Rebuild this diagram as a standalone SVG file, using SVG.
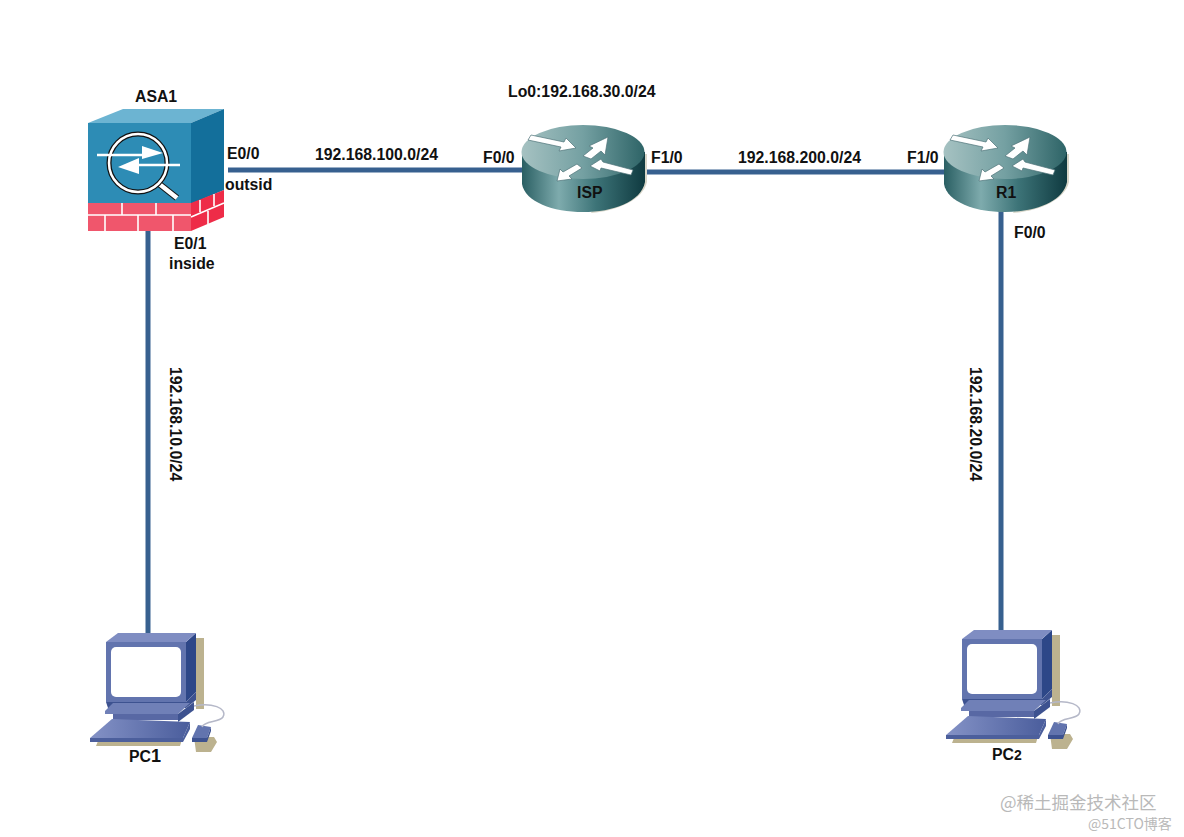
<svg xmlns="http://www.w3.org/2000/svg" width="1184" height="837" viewBox="0 0 1184 837">
<style>
text{font-family:"Liberation Sans",Arial,sans-serif;font-weight:bold;font-size:15.800px;fill:#111}
.link{stroke:#37608f;stroke-width:5;fill:none}
.wm{font-family:"Noto Sans CJK SC",sans-serif;font-weight:normal;fill:#b9b9b9}
.arr{fill:#fff;stroke:#4d7378;stroke-width:.7}
.cord{fill:none;stroke:#b5b8c8;stroke-width:1.5}
</style>
<defs>
<linearGradient id="rtop" x1="0" x2="1" y1="0" y2="0"><stop offset="0" stop-color="#a6c2c2"/><stop offset=".5" stop-color="#74a0a2"/><stop offset="1" stop-color="#2e6467"/></linearGradient>
<linearGradient id="rside" x1="0" x2="1" y1="0" y2="0"><stop offset="0" stop-color="#2a5f63"/><stop offset=".3" stop-color="#7eabad"/><stop offset=".6" stop-color="#3d7478"/><stop offset="1" stop-color="#0f3a40"/></linearGradient>
<linearGradient id="pcg" x1="0" x2="1" y1="0" y2="0"><stop offset="0" stop-color="#8492c6"/><stop offset="1" stop-color="#4a5d9c"/></linearGradient>
<g id="router">
<path d="M100 30 H126 V58 C122 76 96 87 70 89 Z" fill="#d8d6c8"/>
<path d="M1 28 V60 C4 78 32 88 62 88 C92 88 120 78 124 58 V28 Z" fill="url(#rside)"/>
<ellipse cx="62" cy="28" rx="61.500" ry="27" fill="url(#rtop)"/>
<path class="arr" d="M7 16 L10 11 L43 18 L45 14 L55 24 L38 27 L40 23 Z"/>
<path class="arr" d="M62 32 L72 24 L68 22 L87 13 L84 31 L80 27 L70 35 Z"/>
<path class="arr" d="M69 42 L80 35 L82 38 L112 46 L110 51 L80 44 L79 47 Z"/>
<path class="arr" d="M36 57 L39 45 L42 48 L56 40 L61 44 L48 52 L51 55 Z"/>
</g>
<g id="pc">
<path d="M90 8 H98 V79 H90 Z" fill="#bcb28f"/>
<path d="M-10 116 L-6 106 H77 L74 116 Z M88 107 H108 L111 112 L105 122 H90 Z" fill="#bcb28f"/>
<path d="M80 12 L90 3 V62 L80 72 Z" fill="#2d4788"/>
<path d="M0 12 L12 3 H90 L80 12 Z" fill="#7f8dc2"/>
<rect x="0" y="12" width="80" height="60" fill="#6274ae"/>
<rect x="5" y="17" width="70" height="50" rx="5" fill="#fff"/>
<path d="M0 72 H80 L90 62 V70 L80 78 H2 Z" fill="#3d5290"/>
<path d="M-1 81 L7 73 H84 L72 84 H-1 Z" fill="#7080b7"/>
<path d="M72 84 L88 72 V80 L72 92 Z" fill="#3d5290"/>
<path d="M7 84 H72 V90 H7 Z" fill="#5868a4"/>
<path d="M-16 108 L6 89 L84 92 L77 108 Z" fill="url(#pcg)"/>
<path d="M-16 108 H77 L84 92 V99 L77 112 H-16 Z" fill="#4c5f9c"/>
<path d="M86 108 L92 95 L105 97 L101 108 Z" fill="#6274ae"/>
<path d="M86 108 H101 L105 97 V101 L101 112 H86 Z" fill="#3d5290"/>
<path class="cord" d="M88 76 C105 72 122 78 117 87 C113 93 99 90 96 97"/>
</g>
</defs>
<rect width="1184" height="837" fill="#fff"/>
<g id="connectors">
<path class="link" d="M228 170 H522"/>
<path class="link" d="M645 172 H945"/>
<path class="link" d="M148 231 V633"/>
<path class="link" d="M1001 210 V631"/>
</g>
<g id="ASA1">
<path d="M88 123 L123 109 H224 L191 123 Z" fill="#6cb4d2"/>
<path d="M191 123 L224 109 V190 L191 204 Z" fill="#136f9b"/>
<rect x="88" y="123" width="103" height="81" fill="#2d8cb5"/>
<path d="M88 203 H191 V231 H88 Z" fill="#f0566c"/>
<path d="M191 203 L224 190 V217 L191 231 Z" fill="#ee2c48"/>
<path d="M88 215 H191 M122 203 V215 M156 203 V215 M105 215 V231 M138 215 V231 M173 215 V231 M191 217 L224 203 M200 200 V212 M214 194 V206 M208 211 V224" stroke="#fff" stroke-width="1.600" fill="none"/>
<path d="M158 183 L177 198" stroke="#111" stroke-width="6.500"/>
<path d="M158 183 L177 198" stroke="#fff" stroke-width="4.500"/>
<circle cx="138" cy="163" r="29" fill="#2d8cb5" stroke="#111" stroke-width="5"/>
<circle cx="138" cy="163" r="29" fill="none" stroke="#fff" stroke-width="2.500"/>
<path d="M97 155 H148 M127 165 H180" stroke="#fff" stroke-width="2.500"/>
<path d="M142 146 L163 153 L142 159 Z M139 158 L118 167 L139 174 Z" fill="#fff"/>
<text x="135" y="102">ASA1</text>
<text x="227" y="159">E0/0</text>
<text x="225" y="190">outsid</text>
<text x="174" y="249">E0/1</text>
<text x="169" y="269">inside</text>
</g>
<g id="ISP">
<use href="#router" x="521" y="124"/>
<text x="577" y="198">ISP</text>
<text x="508" y="97">Lo0:192.168.30.0/24</text>
<text x="483" y="163">F0/0</text>
<text x="651" y="163">F1/0</text>
</g>
<g id="R1">
<use href="#router" x="943" y="124"/>
<text x="996" y="198">R1</text>
<text x="907" y="163">F1/0</text>
<text x="1014" y="238">F0/0</text>
</g>
<g id="PC1">
<use href="#pc" x="106" y="630"/>
<text x="129" y="762">PC<tspan style="font-size:18px">1</tspan></text>
</g>
<g id="PC2">
<use href="#pc" x="962" y="627"/>
<text x="992" y="760">PC<tspan style="font-size:14px">2</tspan></text>
</g>
<g id="labels">
<text x="315" y="160">192.168.100.0/24</text>
<text x="738" y="163">192.168.200.0/24</text>
<text transform="translate(170,367) rotate(90)">192.168.10.0/24</text>
<text transform="translate(970,367) rotate(90)">192.168.20.0/24</text>
<text class="wm" x="1000" y="809" style="font-size:17.500px">@稀土掘金技术社区</text>
<text class="wm" x="1088" y="829" style="font-size:14px">@51CTO博客</text>
</g>
</svg>
